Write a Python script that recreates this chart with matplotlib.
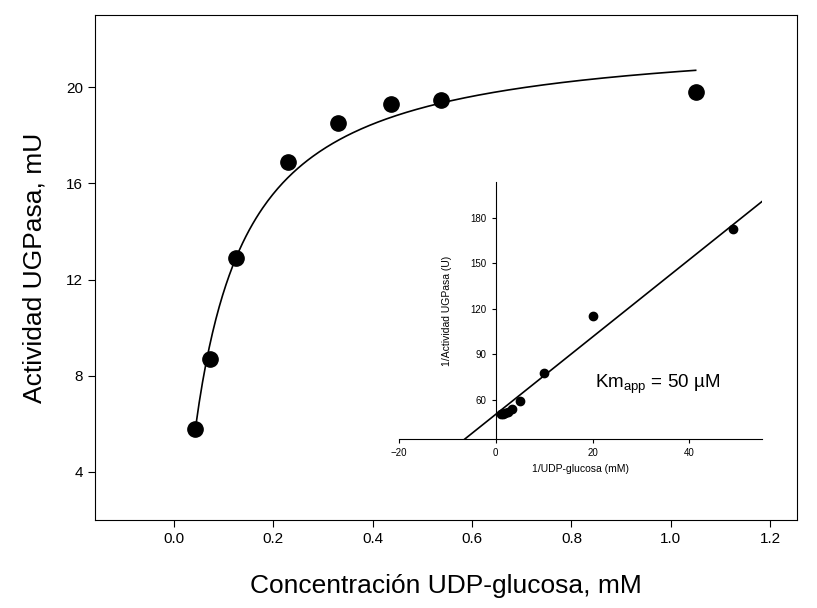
import numpy as np
from matplotlib import pyplot as plt

plt.rcParams['font.family'] = ['Liberation Sans', 'DejaVu Sans']

# main data
conc = [0.042, 0.072, 0.125, 0.23, 0.33, 0.437, 0.537, 1.05]
act = [5.8, 8.7, 12.9, 16.9, 18.5, 19.3, 19.45, 19.8]
vmax, km, x0 = 22.3, 0.08, 0.015

# inset (double reciprocal)
inv_s = [1.0, 1.5, 2.0, 2.5, 3.3, 5.0, 10.0, 20.0, 49.0]
inv_v = [50.5, 51.0, 51.5, 52.0, 54.0, 59.5, 78.0, 115.5, 173.0]
slope, icpt = 2.55, 50.6

fig = plt.figure(figsize=(8.17, 6.08), dpi=100)
ax = fig.add_axes([95/817, 1-520/608, 702/817, 505/608])
xs = np.linspace(0.044, 1.05, 300)
ax.plot(xs, vmax*(xs-x0)/(km+xs-x0), color='black', lw=1.2)
ax.plot(conc, act, 'o', color='black', ms=11)
ax.set_xlim(-0.159, 1.254)
ax.set_ylim(2.0, 23.0)
ax.set_xticks([0.0, 0.2, 0.4, 0.6, 0.8, 1.0, 1.2])
ax.set_xticklabels(['0.0', '0.2', '0.4', '0.6', '0.8', '1.0', '1.2'])
ax.set_yticks([4, 8, 12, 16, 20])
ax.tick_params(labelsize=11, direction='out', length=5)
ax.set_xlabel('Concentración UDP-glucosa, mM', fontsize=19, labelpad=20)
ax.set_ylabel('Actividad UGPasa, mU', fontsize=19, labelpad=14)

ins = fig.add_axes([399/817, 1-439/608, 363/817, 257/608])
ins.patch.set_alpha(0)
xl = np.array([-6.5, 55])
ins.plot(xl, slope*xl+icpt, color='black', lw=1.2)
ins.plot(inv_s, inv_v, 'o', color='black', ms=6)
ins.set_xlim(-20, 55)
ins.set_ylim(34.3, 203.7)
ins.spines['left'].set_position(('data', 0))
ins.spines['top'].set_visible(False)
ins.spines['right'].set_visible(False)
ins.set_xticks([-20, 0, 20, 40])
ins.set_yticks([60, 90, 120, 150, 180])
ins.tick_params(labelsize=7, direction='out', length=3)
ins.set_xlabel('1/UDP-glucosa (mM)', fontsize=7.5)
ins.set_ylabel('1/Actividad UGPasa (U)', fontsize=7.5)
ins.yaxis.set_label_coords(0.145, 0.5)
ins.text(20.5, 68, r'Km$_{\mathregular{app}}$ = 50 µM', fontsize=13.5)

fig.savefig('out.png')
